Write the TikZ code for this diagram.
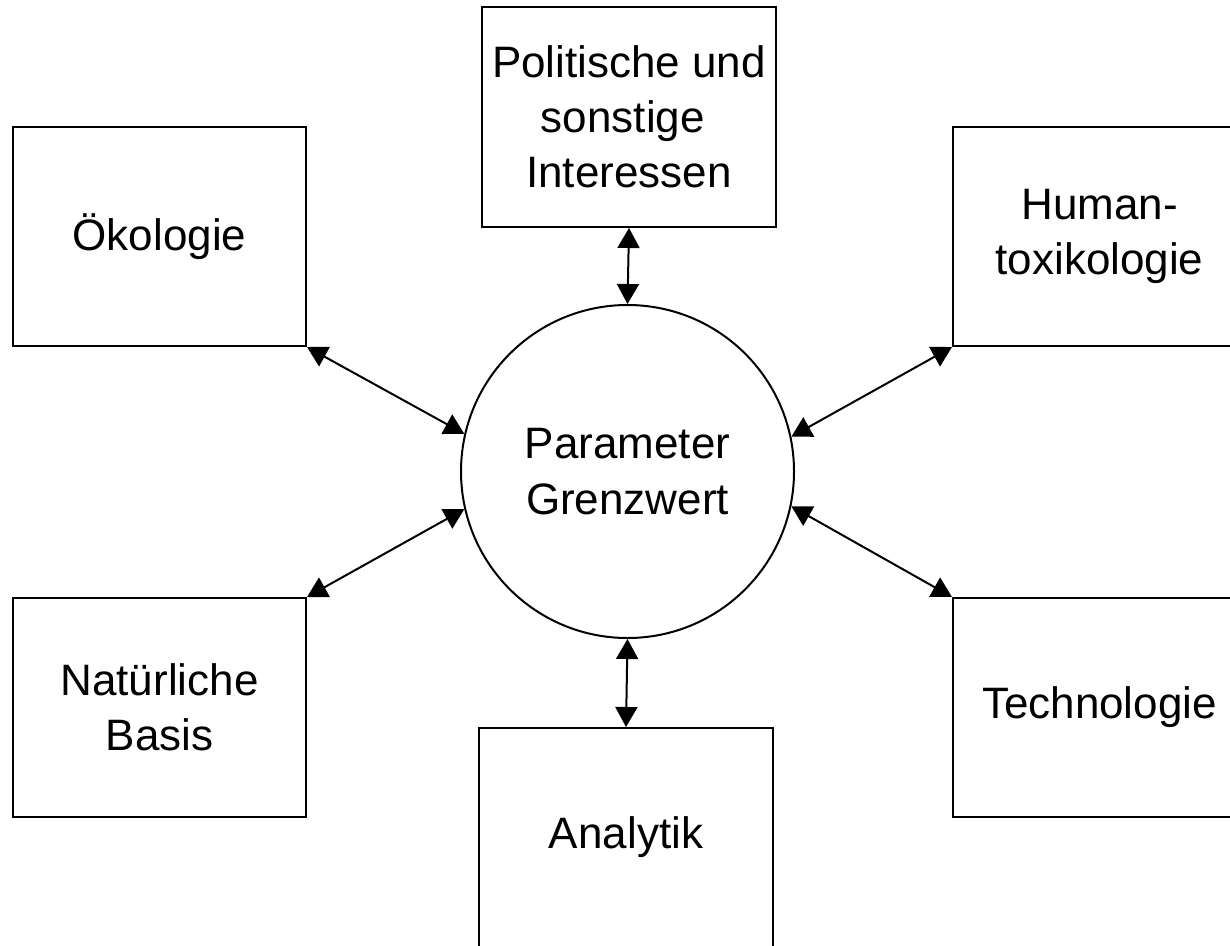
\documentclass[tikz,border=0pt]{standalone}
\usepackage{fontspec}
\setmainfont{Liberation Sans}
\usetikzlibrary{arrows.meta}
\begin{document}
\begin{tikzpicture}[x=1pt,y=-1pt,
  box/.style={draw=black, line width=2pt, fill=white, minimum width=293pt, minimum height=219pt, inner sep=0pt, align=center, font=\fontsize{44}{55}\selectfont},
  circ/.style={draw=black, line width=2pt, circle, minimum size=333pt, inner sep=0pt, align=center, font=\fontsize{44}{56}\selectfont},
  link/.style={line width=2pt, {Triangle[length=20pt,width=22pt]}-{Triangle[length=20pt,width=22pt]}}
]
\clip (0,0) rectangle (1230,945);
\fill[white] (0,0) rectangle (1230,945);
\node[circ] (c) at (627.5,471.5) {Parameter\\Grenzwert};
\node[box] (oek) at (159.5,236.5) {Ökologie};
\node[box, minimum width=294pt, minimum height=220pt] (pol) at (629,117) {Politische und\\sonstige\ \mbox{}\\Interessen};
\node[box] (hum) at (1099.5,236.5) {Human-\\toxikologie};
\node[box] (nat) at (159.5,707.5) {Natürliche\\Basis};
\node[box, minimum width=294pt] (ana) at (626,837.5) {Analytik};
\node[box] (tech) at (1099.5,707.5) {Technologie};
\draw[link] (pol.south) -- (c.north);
\draw[link] (c.south) -- (ana.north);
\draw[link] (oek.south east) -- (c.167);
\draw[link] (nat.north east) -- (c.193);
\draw[link] (hum.south west) -- (c.12);
\draw[link] (tech.north west) -- (c.-12);
\end{tikzpicture}
\end{document}
